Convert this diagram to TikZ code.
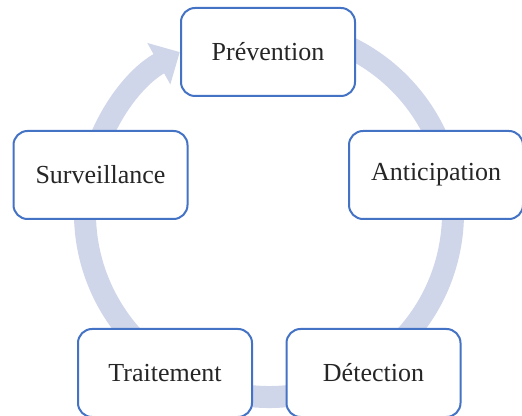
\documentclass[tikz,border=0pt]{standalone}
\usepackage{fontspec}
\setmainfont{Liberation Serif}
\usetikzlibrary{arrows.meta,positioning}
\definecolor{ringblue}{RGB}{208,214,234}
\definecolor{boxblue}{RGB}{68,114,196}
\definecolor{textgrey}{RGB}{38,38,38}
\tikzset{phase/.style={
    % The shape:
    rectangle,
    rounded corners=14pt,
    % The size:
    minimum width=174pt,
    minimum height=88pt,
    % The border:
    line width=2pt,
    draw=boxblue,
    % The filling:
    fill=white,
    % Font
    font=\fontsize{26}{30}\selectfont,
    text=textgrey
    },
    ring/.style={
    line width=22pt,
    draw=ringblue,
    -{Triangle[length=24pt,width=46pt]},
    },
}

\begin{document}
\begin{tikzpicture}[x=1pt,y=1pt]
    \useasboundingbox (0,0) rectangle (522,415);
    \coordinate (centre) at (269,202);
    \draw[ring] (centre) ++(80:184) arc[start angle=80, end angle=-241, radius=184];

    \node (prevention)   [phase] at (268,363)   {Prévention};
    \node (anticipation) [phase] at (436,240)   {Anticipation};
    \node (surveillance) [phase] at (100.5,240) {Surveillance};
    \node (detection)    [phase] at (373.5,42)  {Détection};
    \node (traitement)   [phase] at (165,42)    {Traitement};
\end{tikzpicture}
\end{document}
